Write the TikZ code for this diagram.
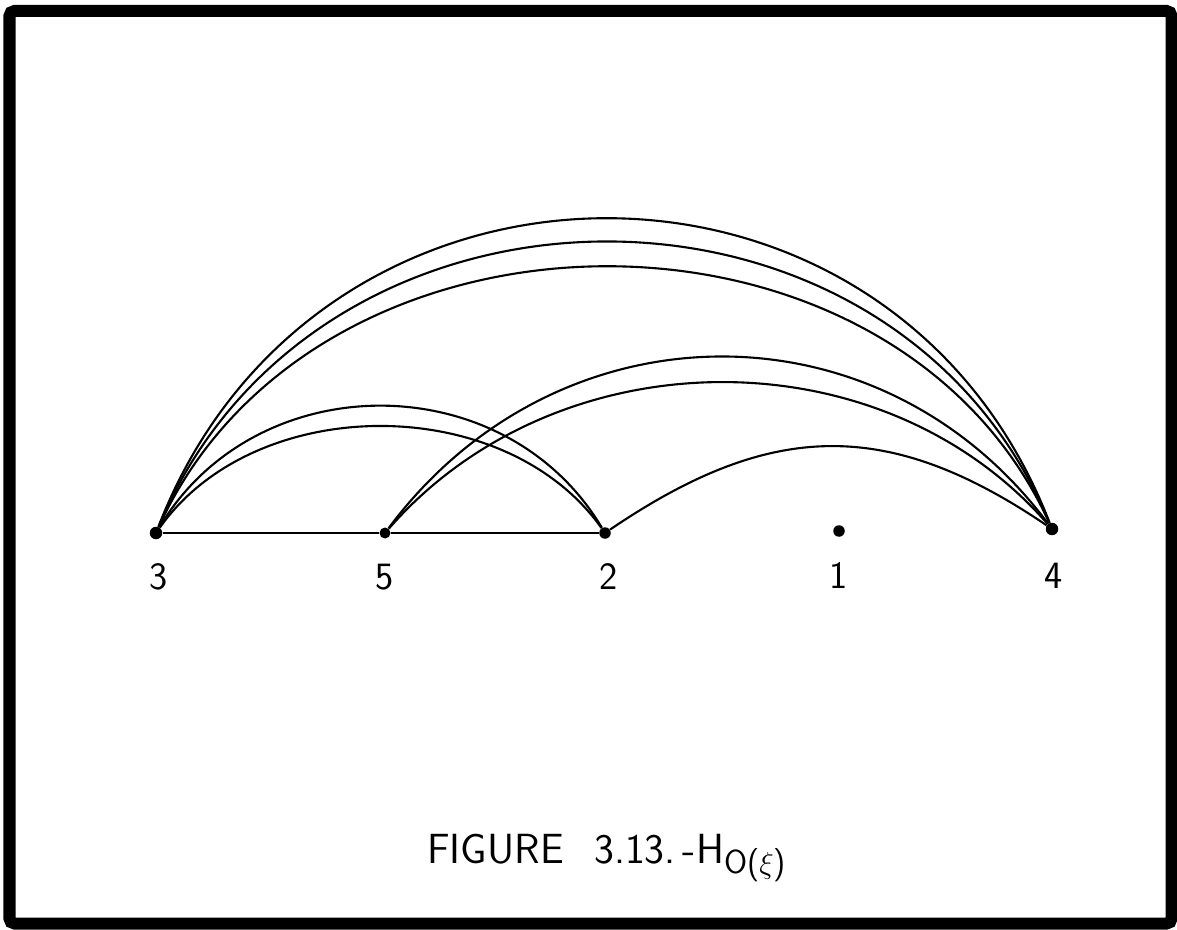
\documentclass[tikz,border=0pt]{standalone}
\usepackage{tikz}
\usetikzlibrary{positioning}
\tikzset{dot/.style={circle,fill=black,inner sep=0pt,minimum size=2.5mm},
  num/.style={inner sep=0pt,font=\fontsize{22}{24}\selectfont\sffamily},
  edge/.style={line width=1.2pt},
  frame/.style={line width=2.4mm,rounded corners=1mm}}

\begin{document}
\begin{tikzpicture}[x=0.2mm,y=0.2mm]
\useasboundingbox (0,0) rectangle (1177,929);
\draw[frame] (9.5,5.5) rectangle (1171.5,918);
\node[dot] (p3) at (156,396) {};
\node[dot,minimum size=2.2mm] (p5) at (385,396) {};
\node[dot,minimum size=2.3mm] (p2) at (605,396) {};
\node[dot,minimum size=2.3mm] (p1) at (839,398) {};
\node[dot] (p4) at (1052,400) {};
\node[num,below=4.8mm of p3,xshift=0.6mm] (l3) {3};
\node[num,below=5mm of p5] (l5) {5};
\node[num,below=4.9mm of p2,xshift=0.8mm] (l2) {2};
\node[num,below=5.1mm of p1] (l1) {1};
\node[num,below=5.4mm of p4,xshift=0.4mm] (l4) {4};
\draw[edge] (p3) -- (p5) -- (p2);
\draw[edge] (p3) .. controls +(160,415) and +(-160,415) .. (p4);
\draw[edge] (p3) .. controls +(160,384) and +(-160,384) .. (p4);
\draw[edge] (p3) .. controls +(160,351) and +(-160,351) .. (p4);
\draw[edge] (p3) .. controls +(100,168) and +(-100,168) .. (p2);
\draw[edge] (p3) .. controls +(100,141) and +(-100,141) .. (p2);
\draw[edge] (p5) .. controls +(172,231) and +(-172,231) .. (p4);
\draw[edge] (p5) .. controls +(172,197) and +(-172,197) .. (p4);
\draw[edge] (p2) .. controls +(165,112) and +(-165,112) .. (p4);
\node[anchor=base west,inner sep=0pt,font=\fontsize{24}{27}\selectfont\sffamily] (cap) at (427,66)
  {FIGURE\hspace{3.5mm} 3.13.\,-H\raisebox{-2mm}{\fontsize{19}{21}\selectfont O($\xi$)}};
\end{tikzpicture}
\end{document}
